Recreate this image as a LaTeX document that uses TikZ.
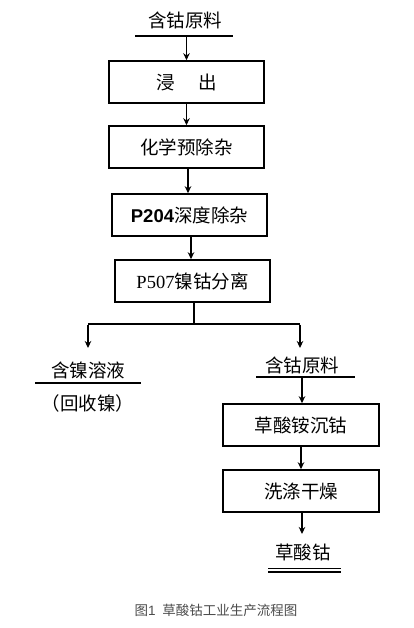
\documentclass[tikz,border=0pt]{standalone}
\usepackage{fontspec}
\setmainfont{Liberation Serif}
\newfontfamily\cjk{Noto Sans CJK SC}
\newfontfamily\arialf{Liberation Sans}
\usetikzlibrary{arrows.meta}
\begin{document}
\begin{tikzpicture}[x=1pt,y=-1pt,
  box/.style={draw,line width=1.6pt,minimum width=155pt,minimum height=42pt,inner sep=0pt,font=\fontsize{18.5}{20}\selectfont\cjk},
  lbl/.style={inner sep=0pt,font=\fontsize{18.5}{20}\selectfont\cjk},
  ln/.style={line width=1.5pt},
  arr/.style={line width=1.5pt,-{Stealth[length=7pt,width=6.5pt]}}]
\useasboundingbox[fill=white] (0,0) rectangle (414,628);
% top
\node[lbl] (t0) at (185,20) {含钴原料};
\coordinate (u0a) at (135,36);
\coordinate (u0b) at (233,36);
\coordinate (u0) at (186.5,36);
\draw[ln] (u0a) -- (u0b);
% main boxes
\node[box] (b1) at (186.5,82) {浸\hspace{1.25em}出};
\node[box] (b2) at (186.5,147) {化学预除杂};
\node[box] (b3) at (189.5,215) {{\arialf\bfseries P204}深度除杂};
\node[box] (b4) at (192.5,281) {{\rmfamily P507}镍钴分离};
\draw[arr] (u0) -- (b1.north);
\draw[arr] (b1.south) -- (b2.north);
\draw[arr] ([xshift=1.5pt]b2.south) -- ([xshift=-1.5pt]b3.north);
\draw[arr] ([xshift=1.5pt]b3.south) -- ([xshift=-1.5pt]b4.north);
% split
\coordinate (s) at (194,324);
\coordinate (sl) at (88,324);
\coordinate (sr) at (300,324);
\coordinate (el) at (88,348);
\coordinate (er) at (300,348);
\draw[line width=2pt] ([xshift=1.5pt]b4.south) -- (s);
\draw[ln] (sl) -- (sr);
\draw[arr] ([yshift=-0.7pt]sl) -- (el);
\draw[arr] ([yshift=-0.7pt]sr) -- (er);
% left branch
\node[lbl] (nl) at (88,370) {含镍溶液};
\coordinate (ula) at (35,383);
\coordinate (ulb) at (141,383);
\draw[ln] (ula) -- (ulb);
\node[lbl] (nl2) at (88,403) {（回收镍）};
% right branch
\node[lbl] (t1) at (302,365) {含钴原料};
\coordinate (u1a) at (256,377);
\coordinate (u1b) at (355,377);
\coordinate (u1) at (302,377);
\draw[ln] (u1a) -- (u1b);
\node[box,minimum width=156pt] (b5) at (301,425) {草酸铵沉钴};
\node[box,minimum width=156pt] (b6) at (301,491) {洗涤干燥};
\draw[arr] (u1) -- (u1 |- b5.north);
\draw[arr] (b5.south) -- (b6.north);
\coordinate (e6) at (302,534);
\draw[arr] ([xshift=1pt]b6.south) -- (e6);
\node[lbl] (t2) at (303,552) {草酸钴};
\coordinate (d1a) at (268,568.5);
\coordinate (d1b) at (341,568.5);
\coordinate (d2a) at (268,572);
\coordinate (d2b) at (341,572);
\draw[line width=1.2pt] (d1a) -- (d1b);
\draw[line width=1.2pt] (d2a) -- (d2b);
% caption
\node[inner sep=0pt,text=black!70,font=\fontsize{13.5}{15}\selectfont\cjk] (cap) at (216,610) {图{\arialf 1}\hspace{0.5em}草酸钴工业生产流程图};
\end{tikzpicture}
\end{document}
